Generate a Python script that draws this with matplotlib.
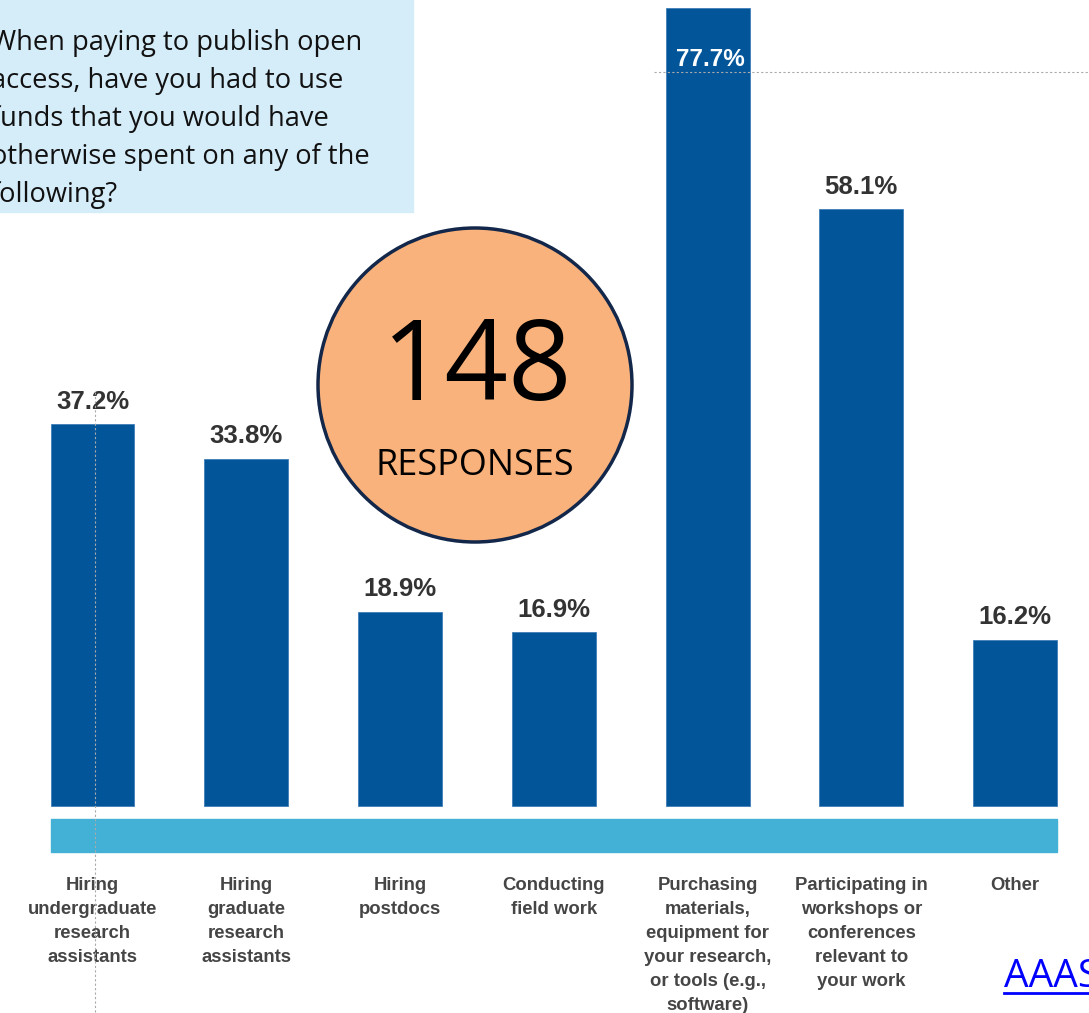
import matplotlib
matplotlib.use("Agg")
import matplotlib.pyplot as plt
from matplotlib.patches import Rectangle, Circle
from matplotlib.lines import Line2D

# survey data
categories = [
    "Hiring\nundergraduate\nresearch\nassistants",
    "Hiring\ngraduate\nresearch\nassistants",
    "Hiring\npostdocs",
    "Conducting\nfield work",
    "Purchasing\nmaterials,\nequipment for\nyour research,\nor tools (e.g.,\nsoftware)",
    "Participating in\nworkshops or\nconferences\nrelevant to\nyour work",
    "Other",
]
values = [37.2, 33.8, 18.9, 16.9, 77.7, 58.1, 16.2]
question = ["When paying to publish open",
            "access, have you had to use",
            "funds that you would have",
            "otherwise spent on any of the",
            "following?"]
n_responses = 148

W, H = 1089, 1013
bar_color = "#03559a"
band_color = "#43b1d5"
label_font = "Liberation Sans"

fig = plt.figure(figsize=(W / 100, H / 100), dpi=100)
ax = fig.add_axes([0, 0, 1, 1])
ax.set_xlim(-0.6016, 6.481)
ax.set_ylim(-20.16, 78.48)
ax.axis("off")

x = list(range(len(values)))
bw = 0.546
ax.bar(x, values, width=bw, color=bar_color, edgecolor="#3f7fb8", linewidth=0.6, zorder=2)

# cyan base band under the bars
ax.add_patch(Rectangle((x[0] - bw / 2, -4.48), x[-1] - x[0] + bw, 3.21,
                       color=band_color, zorder=2))

# value labels
for xi, v in zip(x, values):
    if v > 70:
        ax.text(xi + 0.02, v - 5.6, f"{v}%", ha="center", va="baseline",
                color="white", fontsize=17.5, fontweight="bold", family=label_font, zorder=4)
    else:
        ax.text(xi, v + 1.5, f"{v}%", ha="center", va="baseline",
                color="#333333", fontsize=18.5, fontweight="bold", family=label_font, zorder=4)

# category labels, one line at a time
for xi, cat in zip(x, categories):
    for j, line in enumerate(cat.split("\n")):
        ax.text(xi, -6.95 - j * 2.337, line, ha="center", va="top",
                color="#454545", fontsize=13.3, fontweight="bold", family=label_font)

# faint dotted guide lines
ax.plot([0.016, 0.016], [40.3, -21], color="#aaaaaa", lw=0.8, ls=(0, (2, 2)), zorder=5)
ax.plot([3.65, 6.6], [71.5, 71.5], color="#aaaaaa", lw=0.8, ls=(0, (2, 2)), zorder=3)

# question box (top left)
fig.patches.append(Rectangle((0, 1 - 212 / H), 413 / W, 212 / H,
                             transform=fig.transFigure, color="#d5ecf9", zorder=1))
for j, line in enumerate(question):
    fig.text(-9 / W, 1 - (50 + 38 * j) / H, line, ha="left", va="baseline",
             fontsize=19.6, family="Open Sans", color="#111111", zorder=3)

# responses circle
fig.patches.append(Circle((475, H - 385), 157, transform=None,
                          facecolor="#f9b27b", edgecolor="#13274a", linewidth=2.5, zorder=2))
fig.text(477 / W, 1 - 371 / H, str(n_responses), ha="center", va="center",
         fontsize=80, family="Open Sans", color="black", zorder=3)
fig.text(475 / W, 1 - 466 / H, "RESPONSES", ha="center", va="center",
         fontsize=26, family="Open Sans", color="black", zorder=3)

# source link
fig.text(1004 / W, 1 - 987 / H, "AAAS", ha="left", va="baseline",
         fontsize=28, family="Open Sans", color="#0000ff", zorder=3)
fig.lines.append(Line2D([1004 / W, 1.0], [1 - 993 / H, 1 - 993 / H],
                        transform=fig.transFigure, color="#0000ff", lw=2))

fig.savefig("out.png", dpi=100)
